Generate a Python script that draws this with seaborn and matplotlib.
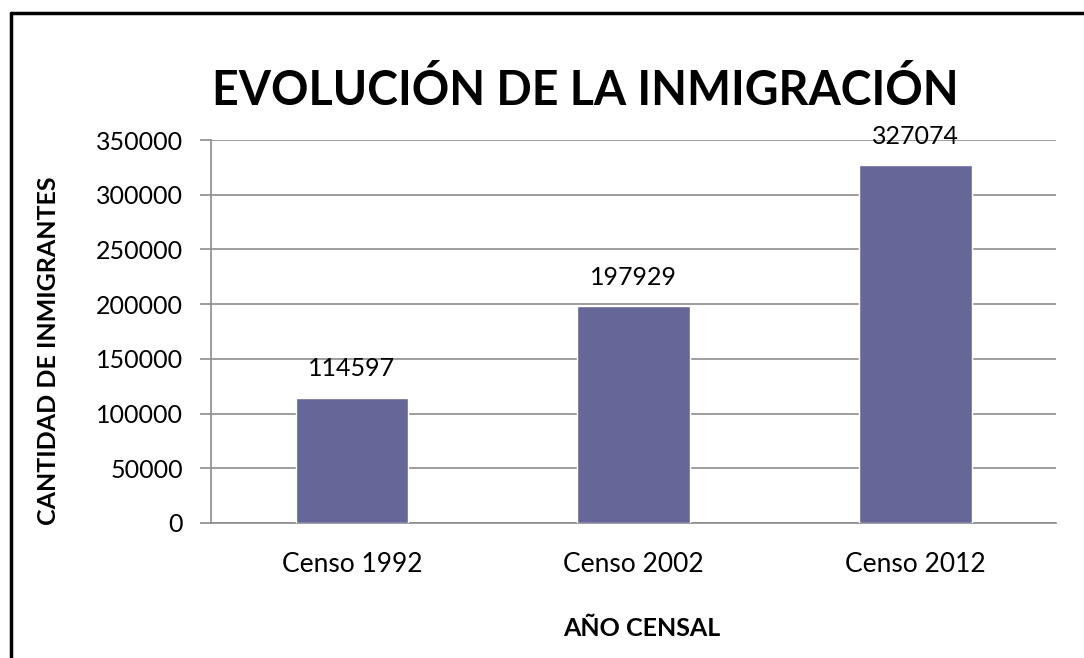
import matplotlib
matplotlib.use("Agg")
import matplotlib.pyplot as plt
from matplotlib.lines import Line2D
import seaborn as sns
import pandas as pd

# data
censos = ["Censo 1992", "Censo 2002", "Censo 2012"]
inmigrantes = [114597, 197929, 327074]
yticks = [0, 50000, 100000, 150000, 200000, 250000, 300000, 350000]

df = pd.DataFrame({"censo": censos, "inmigrantes": inmigrantes})

sns.set_style("white")
plt.rcParams["font.family"] = ["Lato", "DejaVu Sans"]
plt.rcParams["text.color"] = "black"
plt.rcParams["xtick.labelcolor"] = "black"
plt.rcParams["ytick.labelcolor"] = "black"
plt.rcParams["axes.labelcolor"] = "black"

fig = plt.figure(figsize=(10.84, 6.58), dpi=100)
ax = fig.add_axes([211 / 1084, 1 - 523 / 658, 845 / 1084, 383 / 658])

sns.barplot(data=df, x="censo", y="inmigrantes", color="#666699",
            saturation=1, width=0.4, ax=ax, zorder=3)

ax.set_ylim(0, 350000)
ax.set_yticks(yticks)
ax.set_yticklabels([str(t) for t in yticks])
ax.yaxis.grid(True, color="#8c8c8c", linewidth=1.2, zorder=0)
ax.set_axisbelow(True)

for s in ["top", "right"]:
    ax.spines[s].set_visible(False)
ax.spines["left"].set_color("#8c8c8c")
ax.spines["bottom"].set_color("#8c8c8c")
ax.spines["left"].set_linewidth(1.2)
ax.spines["bottom"].set_linewidth(1.2)

ax.tick_params(axis="y", length=8, width=1.2, color="#8c8c8c",
               labelsize=18, pad=12, left=True)
ax.tick_params(axis="x", length=0, labelsize=19, pad=21)

for i, v in enumerate(inmigrantes):
    ax.text(i, v + 16000, str(v), ha="center", va="bottom", fontsize=18)

ax.set_xlabel("AÑO CENSAL", fontsize=18, fontweight="bold")
ax.set_ylabel("CANTIDAD DE INMIGRANTES", fontsize=18, fontweight="bold")
ax.xaxis.set_label_coords(0.51, -0.246)
ax.yaxis.set_label_coords(-0.179, 0.449)

fig.text(0.54, 1 - 105 / 658, "EVOLUCIÓN DE LA INMIGRACIÓN", ha="center",
         va="baseline", fontsize=33.5, fontweight="bold")

# black frame around the chart area (cut off at right and bottom)
fig.add_artist(Line2D([11 / 1084, 1], [1 - 13 / 658, 1 - 13 / 658],
                      color="black", linewidth=2.5, transform=fig.transFigure))
fig.add_artist(Line2D([11 / 1084, 11 / 1084], [1 - 13 / 658, 0],
                      color="black", linewidth=2.5, transform=fig.transFigure))

fig.savefig("out.png", dpi=100)
